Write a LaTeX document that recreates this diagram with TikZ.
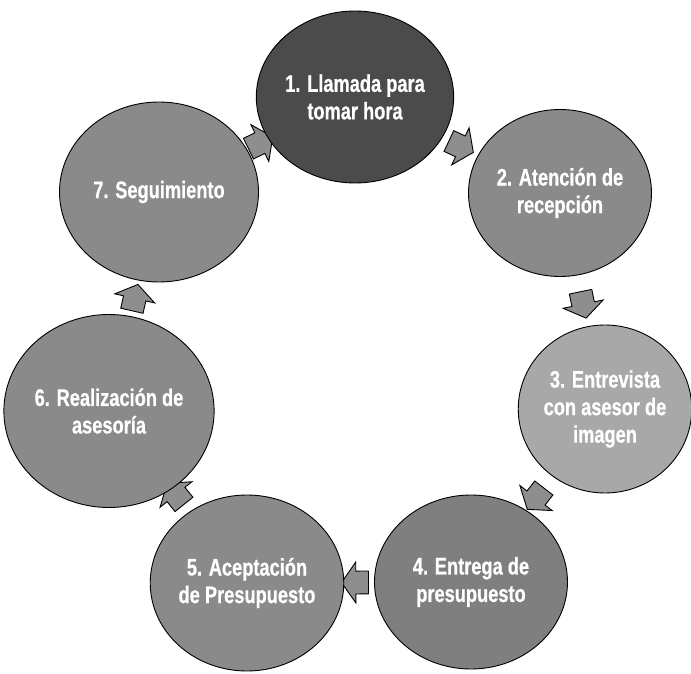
\documentclass[tikz,border=0pt]{standalone}
\usepackage{fontspec}
\newfontfamily\stagefont{Liberation Sans}[FakeStretch=0.76,FakeBold=0.6]
\usetikzlibrary{shapes.geometric,shapes.arrows,calc,backgrounds}
\definecolor{stagegray}{HTML}{8A8A8A}
\definecolor{stagedark}{HTML}{4B4B4B}
\definecolor{stagelight}{HTML}{A8A8A8}
\definecolor{flowgray}{HTML}{8E8E8E}

\begin{document}
\begin{tikzpicture}[
      x=1pt, y=1pt,
      stage/.style={ellipse, draw=black, line width=0.9pt, fill=stagegray, text=white, align=center, inner sep=0pt, font=\stagefont\bfseries\fontsize{24}{27.5}\selectfont},
      darkstage/.style={stage, fill=stagedark},
      lightstage/.style={stage, fill=stagelight},
      flow/.style={single arrow, draw=black, line width=0.9pt, fill=flowgray, inner xsep=0pt, inner ysep=11pt, minimum height=27pt, single arrow head extend=9pt, single arrow tip angle=110}
    ]
      \useasboundingbox (0,0) rectangle (691,673);

      % Stages of the cycle
      \node[darkstage, minimum width=174pt, minimum height=172pt] (c1) at (355,576) {1. Llamada para\\tomar hora};
      \node[stage, minimum width=183pt, minimum height=167pt] (c2) at (560,480) {2. Atención de\\recepción};
      \node[lightstage, minimum width=170pt, minimum height=168pt] (c3) at (605,264) {3. Entrevista\\con asesor de\\imagen};
      \node[stage, fill=stagegray!92!black, minimum width=193pt, minimum height=174pt] (c4) at (471,91) {4. Entrega de\\presupuesto};
      \node[stage, minimum width=180pt, minimum height=176pt] (c5) at (247,90) {5. Aceptación\\de Presupuesto};
      \node[stage, minimum width=202pt, minimum height=193pt] (c6) at (109,262) {6. Realización de\\asesoría};
      \node[stage, minimum width=199pt, minimum height=180pt] (c7) at (159,481) {7. Seguimiento};

      % Arrows between stages
      \begin{scope}[on background layer]
        \foreach \a/\b in {c1/c2, c2/c3, c3/c4, c4/c5, c5/c6, c6/c7, c7/c1}
          \path let \p1 = ($(\b)-(\a)$), \n1 = {atan2(\y1,\x1)} in
            node[flow, rotate=\n1] (f-\a) at ($(\a)!0.5!(\b)$) {};
      \end{scope}
    \end{tikzpicture}
\end{document}
